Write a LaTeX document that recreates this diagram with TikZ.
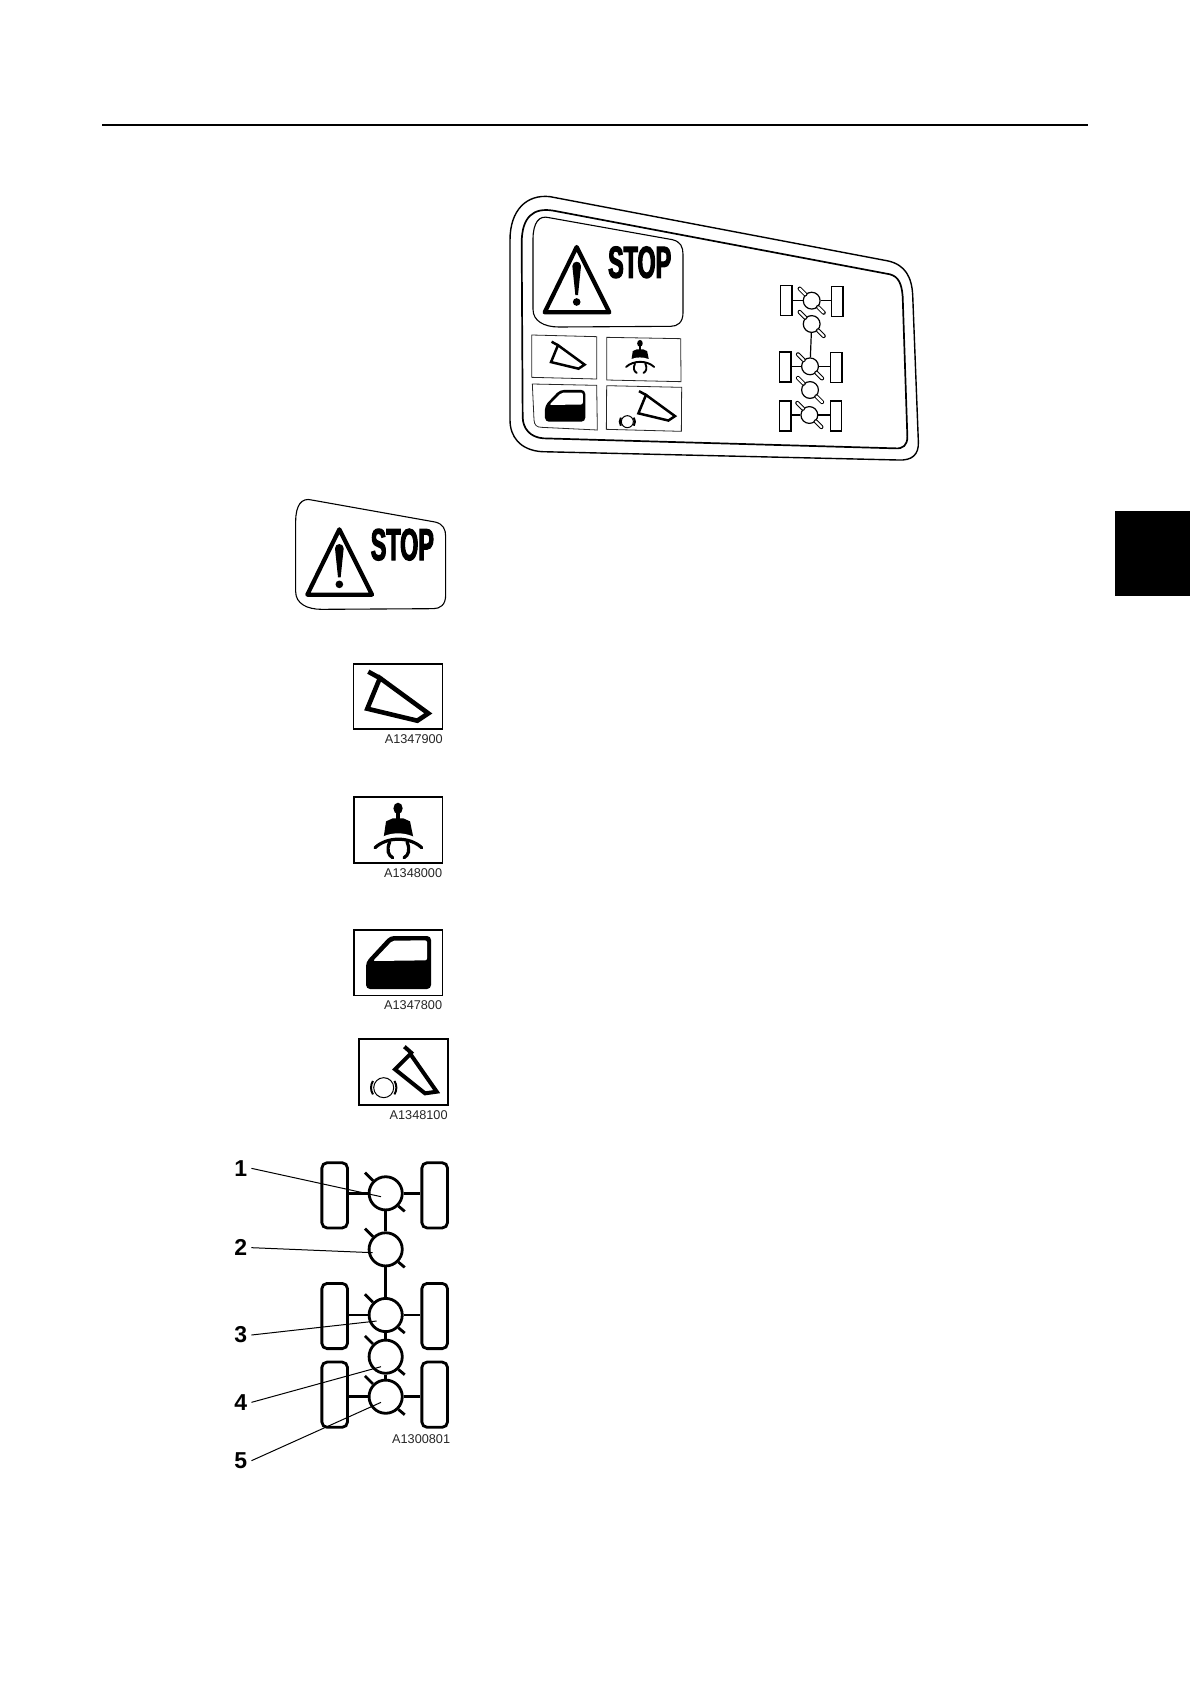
\documentclass[tikz,border=0pt]{standalone}
\usepackage{fontspec}
\setmainfont{Liberation Sans}
\newfontfamily\stopfont[BoldFont={Liberation Sans Bold},BoldFeatures={FakeBold=2.4,FakeStretch=0.52}]{Liberation Sans}
\usetikzlibrary{positioning,shapes.geometric}
\tikzset{
  zoomunit/.style={x=0.16667pt,y=-0.16667pt},
  panelline/.style={line width=0.85pt,line join=round},
  iconbox/.style={draw=black,line width=0.8pt},
  labelbox/.style={draw=black!85,line width=0.4pt},
  wedgeline/.style={line width=2.3pt,line join=miter},
  beltline/.style={line width=1.6pt,line cap=round},
  partcode/.style={font=\fontsize{6.35}{7}\selectfont,anchor=east,inner sep=0pt,text=black!85},
  partnum/.style={font=\fontsize{11.5}{12}\selectfont\bfseries,inner sep=2pt},
  leader/.style={draw=black,line width=0.5pt},
  wheelbox/.style={draw=black,line width=1.4pt,rounded corners=2.6pt,minimum width=12.8pt,minimum height=32.6pt,inner sep=0pt},
  hub/.style={circle,draw=black,fill=white,line width=1.4pt,minimum size=16.6pt,inner sep=0pt},
  axle/.style={draw=black,line width=1.4pt},
  hubtick/.style={draw=black,line width=1.4pt},
  miniwheel/.style={draw=black,line width=0.6pt,minimum width=5.6pt,minimum height=15pt,inner sep=0pt},
  minihub/.style={circle,draw=black,fill=white,line width=0.6pt,minimum size=8.4pt,inner sep=0pt},
  miniaxle/.style={draw=black,line width=0.6pt},
  minitick/.style={draw=black,line width=0.5pt,double=white,double distance=1.1pt,line cap=round},
  stoppanel/.pic={
    \draw[line width=0.55pt] (47,95) .. controls (47,45) and (65,22) .. (95,30) -- (465,96)
      .. controls (490,102) and (497,118) .. (497,140) -- (497,315)
      .. controls (497,345) and (480,356) .. (460,356) -- (125,358)
      .. controls (80,358) and (47,340) .. (47,305) -- cycle;
    \draw[line width=2.1pt,line join=round] (178,118) -- (82,314) -- (276,314) -- cycle;
    \fill (165,175) .. controls (165,158) and (191,158) .. (191,175) -- (182,262) -- (174,262) -- cycle;
    \fill (178,283) circle (11.5);
    \node[font=\stopfont\fontsize{22.4}{24}\selectfont\bfseries,inner sep=0pt] (stoptext) at (367,164) {STOP};
  },
  seatwedge/.pic={
    \draw[wedgeline] (45,24) -- (85,46) (80,43) -- (72,62) -- (42,135) -- (192,171) -- (225,149) -- cycle;
  },
  beltman/.pic={
    \fill (133,35) ellipse (14 and 17);
    \fill (126,45) rectangle (140,70);
    \fill (97,74) -- (117,65) -- (149,65) -- (169,74) -- (180,128) .. controls (150,108) and (115,108) .. (89,128) -- cycle;
    \draw[beltline,white,line width=2.2pt] (68,142) .. controls (100,108) and (165,108) .. (200,142);
    \draw[beltline] (64,153) .. controls (100,119) and (168,119) .. (204,153);
    \draw[beltline] (108,136) .. controls (98,160) and (103,175) .. (117,183);
    \draw[beltline] (160,136) .. controls (170,160) and (165,175) .. (151,183);
  },
  doorshape/.pic={
    \fill[rounded corners=2pt] (37,96) -- (109,18) -- (232,18) -- (232,177) -- (37,177) -- cycle;
    \fill[white,rounded corners=1pt] (58,93) -- (116,32) -- (220,31) -- (220,91) -- cycle;
  },
  brakering/.pic={
    \draw[line width=0.5pt] (0,0) circle (30);
    \draw[line width=1pt] (148:38) arc[start angle=148,end angle=212,radius=38];
    \draw[line width=1pt] (32:38) arc[start angle=32,end angle=-32,radius=38];
  }
}
\begin{document}
\begin{tikzpicture}[x=0.5pt,y=-0.5pt]
  \useasboundingbox (0,0) rectangle (1190,1684);
  % page rule and tab
  \draw[line width=0.8pt] (102,125) -- (1088,125);
  \fill (1115,511) rectangle (1190,596);

  % whole plate
  \begin{scope}[shift={(500,180)},zoomunit,wedgeline/.append style={line width=1.25pt},beltline/.append style={line width=0.95pt}]
    \draw[panelline,line width=0.7pt] (30,180) .. controls (30,90) and (80,42) .. (150,50) -- (1165,243)
      .. controls (1215,255) and (1235,290) .. (1238,345) -- (1255,785)
      .. controls (1257,825) and (1235,842) .. (1195,840) -- (125,815)
      .. controls (60,810) and (30,770) .. (30,720) -- cycle;
    \draw[panelline] (65,190) .. controls (65,110) and (100,82) .. (160,92) -- (1170,283)
      .. controls (1195,290) and (1205,310) .. (1208,350) -- (1222,770)
      .. controls (1222,795) and (1210,807) .. (1185,805) -- (130,775)
      .. controls (90,772) and (68,745) .. (68,710) -- cycle;
    \pic (platestop) at (52,83) {stoppanel};
    \draw[labelbox] (95,465) -- (290,470) -- (290,597) -- (95,592) -- cycle;
    \draw[labelbox] (320,472) -- (542,476) -- (543,605) -- (320,600) -- cycle;
    \draw[labelbox] (97,612) -- (290,616) -- (292,750) -- (125,742) .. controls (110,742) and (103,735) .. (102,720) -- cycle;
    \draw[labelbox] (320,617) -- (545,622) -- (544,754) -- (319,748) -- cycle;
    \pic[scale=0.55] at (130,472) {seatwedge};
    \pic[scale=0.6] at (340,469) {beltman};
    \pic[xscale=0.62,yscale=0.6] at (112,619) {doorshape};
    \pic[scale=0.6] at (390,619) {seatwedge};
    \pic[scale=0.6] at (382,725) {brakering};
    % plate drive line
    \node[miniwheel] (pwl1) at (859,362) {};
    \node[miniwheel] (pwr1) at (1012,364) {};
    \node[miniwheel] (pwl2) at (856,561) {};
    \node[miniwheel] (pwr2) at (1009,563) {};
    \node[miniwheel] (pwl3) at (856,708) {};
    \node[miniwheel] (pwr3) at (1008,708) {};
    \node[minihub] (phub1) at (935,362) {};
    \node[minihub] (phub2) at (935,432) {};
    \node[minihub] (phub3) at (930,559) {};
    \node[minihub] (phub4) at (930,630) {};
    \node[minihub] (phub5) at (928,705) {};
    \draw[miniaxle] (pwl1.east |- phub1) -- (phub1);
    \draw[miniaxle] (phub1) -- (pwr1.west |- phub1);
    \draw[miniaxle] (phub2) -- (phub3);
    \draw[miniaxle] (pwl2.east |- phub3) -- (phub3);
    \draw[miniaxle] (phub3) -- (pwr2.west |- phub3);
    \draw[miniaxle] (pwl3.east |- phub5) -- (phub5);
    \draw[miniaxle] (phub5) -- (pwr3.west |- phub5);
    \draw[minitick] (phub1.135) -- ++(-17,-17);
    \draw[minitick] (phub1.-45) -- ++(17,17);
    \draw[minitick] (phub2.135) -- ++(-17,-17);
    \draw[minitick] (phub2.-45) -- ++(17,17);
    \draw[minitick] (phub3.135) -- ++(-17,-17);
    \draw[minitick] (phub3.-45) -- ++(17,17);
    \draw[minitick] (phub4.135) -- ++(-17,-17);
    \draw[minitick] (phub4.-45) -- ++(17,17);
    \draw[minitick] (phub5.135) -- ++(-17,-17);
    \draw[minitick] (phub5.-45) -- ++(17,17);
  \end{scope}

  % separate symbols
  \begin{scope}[shift={(280,490)},zoomunit]
    \pic (bigstop) at (0,0) {stoppanel};
  \end{scope}
  \begin{scope}[shift={(353.3,663.7)},zoomunit]
    \draw[iconbox] (0,0) rectangle (268,196);
    \pic at (0,0) {seatwedge};
  \end{scope}
  \node[partcode] (code1) at (443.2,739.3) {A1347900};
  \begin{scope}[shift={(353.7,796.7)},zoomunit]
    \draw[iconbox] (0,0) rectangle (266,198);
    \pic at (0,0) {beltman};
  \end{scope}
  \node[partcode] (code2) at (442.5,872.7) {A1348000};
  \begin{scope}[shift={(353.7,930)},zoomunit]
    \draw[iconbox] (0,0) rectangle (266,196);
    \pic at (0,0) {doorshape};
  \end{scope}
  \node[partcode] (code3) at (442.5,1005) {A1347800};
  \begin{scope}[shift={(358.7,1039)},zoomunit]
    \draw[iconbox,line width=1pt] (0,0) rectangle (269,198);
    \draw[wedgeline,line width=2pt] (137,23) -- (162,45) (155,45) -- (109,91) -- (199,163) -- (234,158) -- cycle;
    \pic at (75,146) {brakering};
  \end{scope}
  \node[partcode] (code4) at (448,1115) {A1348100};

  % drive line
  \begin{scope}[shift={(220,1140)},zoomunit]
    \node[wheelbox] (wl1) at (344,166) {};
    \node[wheelbox] (wr1) at (644,166) {};
    \node[wheelbox] (wl2) at (344,528) {};
    \node[wheelbox] (wr2) at (644,528) {};
    \node[wheelbox] (wl3) at (344,764) {};
    \node[wheelbox] (wr3) at (644,764) {};
    \node[hub] (hub1) at (497,160) {};
    \node[hub] (hub2) at (497,328) {};
    \node[hub] (hub3) at (497,525) {};
    \node[hub] (hub4) at (497,650) {};
    \node[hub] (hub5) at (497,770) {};
    \draw[axle] (wl1.east |- hub1) -- (hub1);
    \draw[axle] (hub1) -- (wr1.west |- hub1);
    \draw[axle] (hub1) -- (hub2);
    \draw[axle] (hub2) -- (hub3);
    \draw[axle] (hub3) -- (hub4);
    \draw[axle] (hub4) -- (hub5);
    \draw[axle] (wl2.east |- hub3) -- (hub3);
    \draw[axle] (hub3) -- (wr2.west |- hub3);
    \draw[axle] (wl3.east |- hub5) -- (hub5);
    \draw[axle] (hub5) -- (wr3.west |- hub5);
    \draw[hubtick] (hub1.135) -- ++(-24,-24);
    \draw[hubtick] (hub1.-45) -- ++(19,16);
    \draw[hubtick] (hub2.135) -- ++(-24,-24);
    \draw[hubtick] (hub2.-45) -- ++(19,16);
    \draw[hubtick] (hub3.135) -- ++(-24,-24);
    \draw[hubtick] (hub3.-45) -- ++(19,16);
    \draw[hubtick] (hub4.135) -- ++(-24,-24);
    \draw[hubtick] (hub4.-45) -- ++(19,16);
    \draw[hubtick] (hub5.135) -- ++(-24,-24);
    \draw[hubtick] (hub5.-45) -- ++(19,16);
    \node[partnum] (num1) at (62,85) {1};
    \node[partnum] (num2) at (62,323) {2};
    \node[partnum] (num3) at (62,585) {3};
    \node[partnum] (num4) at (62,787) {4};
    \node[partnum] (num5) at (62,962) {5};
    \coordinate (tip1) at (483,170);
    \coordinate (tip2) at (458,338);
    \coordinate (tip3) at (470,543);
    \coordinate (tip4) at (483,680);
    \coordinate (tip5) at (483,787);
    \draw[leader] (num1.east) -- (tip1);
    \draw[leader] (num2.east) -- (tip2);
    \draw[leader] (num3.east) -- (tip3);
    \draw[leader] (num4.east) -- (tip4);
    \draw[leader] (num5.east) -- (tip5);
  \end{scope}
  \node[partcode] (code5) at (450.5,1439) {A1300801};
\end{tikzpicture}
\end{document}
